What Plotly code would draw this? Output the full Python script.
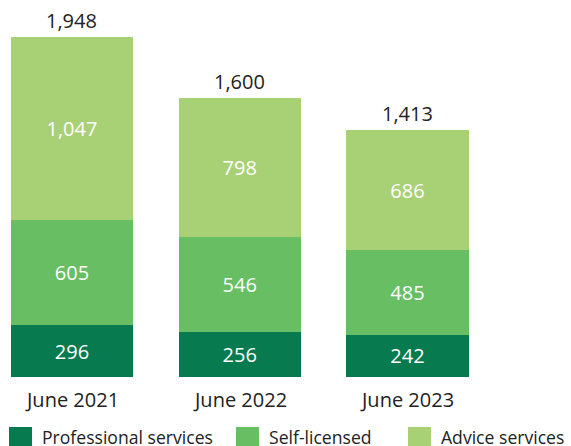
import plotly.graph_objects as go

periods = ["June 2021", "June 2022", "June 2023"]
professional = [296, 256, 242]
self_licensed = [605, 546, 485]
advice = [1047, 798, 686]
totals = [p + s + a for p, s, a in zip(professional, self_licensed, advice)]

series = [
    ("Professional services", professional, "#077A4F"),
    ("Self-licensed", self_licensed, "#67BE63"),
    ("Advice services", advice, "#A8D176"),
]

FONT = "Open Sans"
W, H = 571, 446
PLOT_H = 377  # plot area height in px (bottom margin holds labels + legend)
x_idx = list(range(len(periods)))


def py(px_from_top):
    """Convert a pixel row (from figure top) to paper y."""
    return (PLOT_H - px_from_top) / PLOT_H


fig = go.Figure()
for name, vals, color in series:
    fig.add_trace(go.Bar(
        x=x_idx, y=vals, name=name,
        marker=dict(color=color, line=dict(width=0)),
        width=0.728,
        text=[f"{v:,}" for v in vals],
        textposition="inside", insidetextanchor="middle",
        textfont=dict(family=FONT, size=20, color="white"),
        showlegend=False,
        hoverinfo="skip",
    ))

# totals above each stack
for i, t in enumerate(totals):
    fig.add_annotation(x=i, y=t, text=f"{t:,}", showarrow=False,
                       yanchor="bottom", yshift=1,
                       font=dict(family=FONT, size=20, color="#222222"))

# category labels under the bars
for i, p in enumerate(periods):
    fig.add_annotation(x=i, y=0, text=p, showarrow=False,
                       yanchor="top", yshift=-7,
                       font=dict(family=FONT, size=20, color="#222222"))

# legend along the bottom edge
legend_x = [9, 236, 408]
for (name, _, color), lx in zip(series, legend_x):
    fig.add_shape(type="rect", xref="paper", yref="paper",
                  x0=lx / W, x1=(lx + 23) / W,
                  y0=py(H + 2), y1=py(427),
                  fillcolor=color, line=dict(width=0), layer="above")
    fig.add_annotation(xref="paper", yref="paper",
                       x=(lx + 31) / W, y=py(437),
                       text=name, showarrow=False,
                       xanchor="left", yanchor="middle",
                       font=dict(family=FONT, size=17.6, color="#222222"))

fig.update_layout(
    width=W, height=H,
    margin=dict(l=0, r=0, t=0, b=H - PLOT_H),
    barmode="stack",
    plot_bgcolor="white", paper_bgcolor="white",
    xaxis=dict(range=[-0.429, 2.975], visible=False, fixedrange=True),
    yaxis=dict(range=[0, 2160], visible=False, fixedrange=True),
    uniformtext=dict(mode=False),
)

fig.write_html("out.html")
